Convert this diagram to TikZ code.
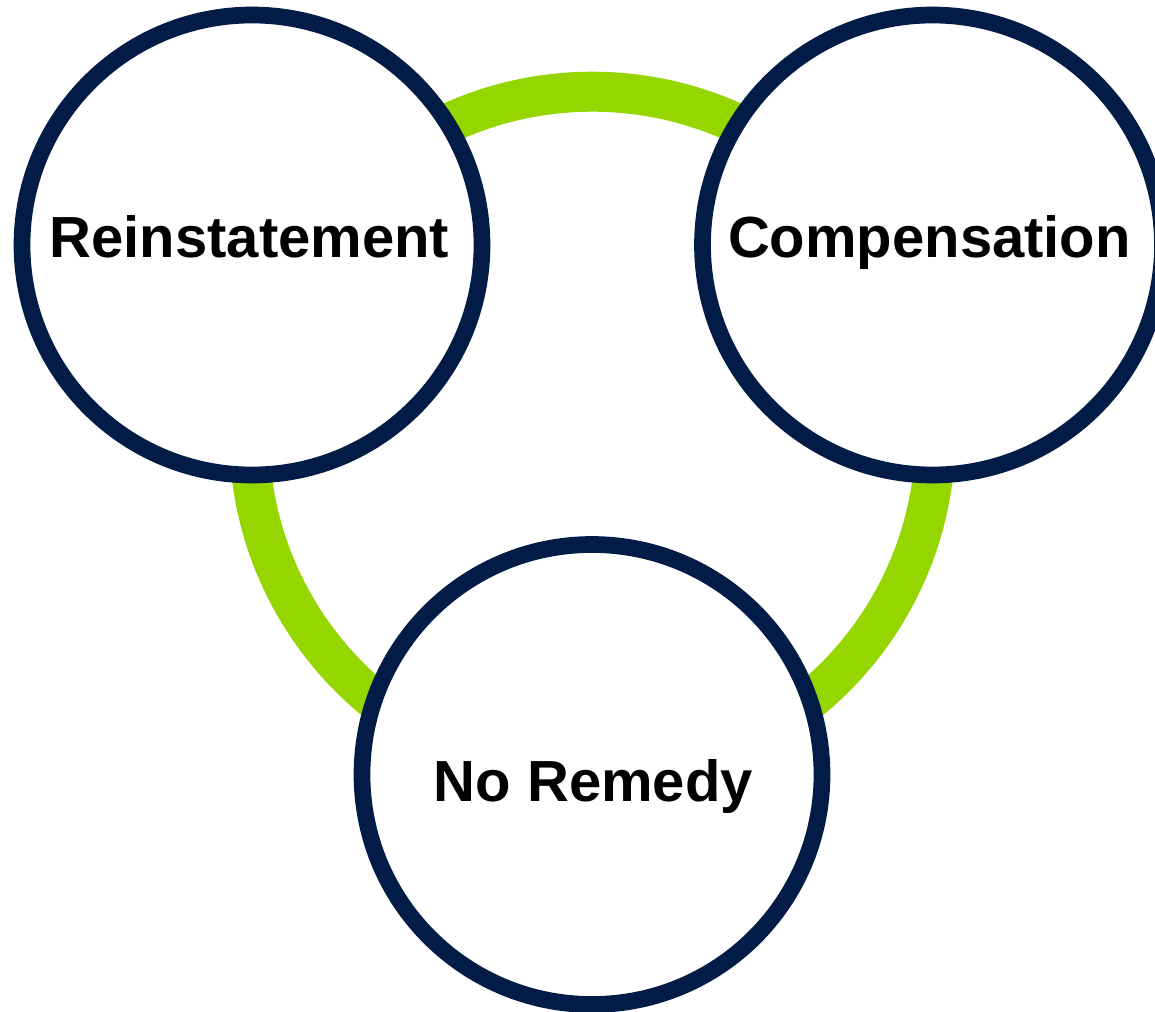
\documentclass[tikz,border=0pt]{standalone}
\usepackage{fontspec}
\setmainfont{Liberation Sans}
\definecolor{navy}{HTML}{031C47}
\definecolor{lime}{HTML}{95D600}
\begin{document}
\begin{tikzpicture}[x=1pt,y=-1pt,
  stage/.style={circle, draw=navy, line width=16.7pt, fill=white, minimum size=460pt, inner sep=0pt},
  lbl/.style={font=\bfseries\fontsize{58}{60}\selectfont, anchor=base, inner sep=0pt, text=black},
  ring/.style={draw=lime, line width=40pt}]
\useasboundingbox (0,0) rectangle (1155,1011);
\coordinate (ringc) at (592.3,434.8);
\draw[ring] (ringc) circle[radius=343.1pt];
\node[stage] (rein) at (252,245) {};
\node[stage] (comp) at (932.5,245) {};
\node[stage] (none) at (592,774.5) {};
\node[lbl] (reinT) at (249.5,257.3) {Reinstatement};
\node[lbl] (compT) at (929.4,257.3) {Compensation};
\node[lbl] (noneT) at (593.4,801) {No Remedy};
\end{tikzpicture}
\end{document}
